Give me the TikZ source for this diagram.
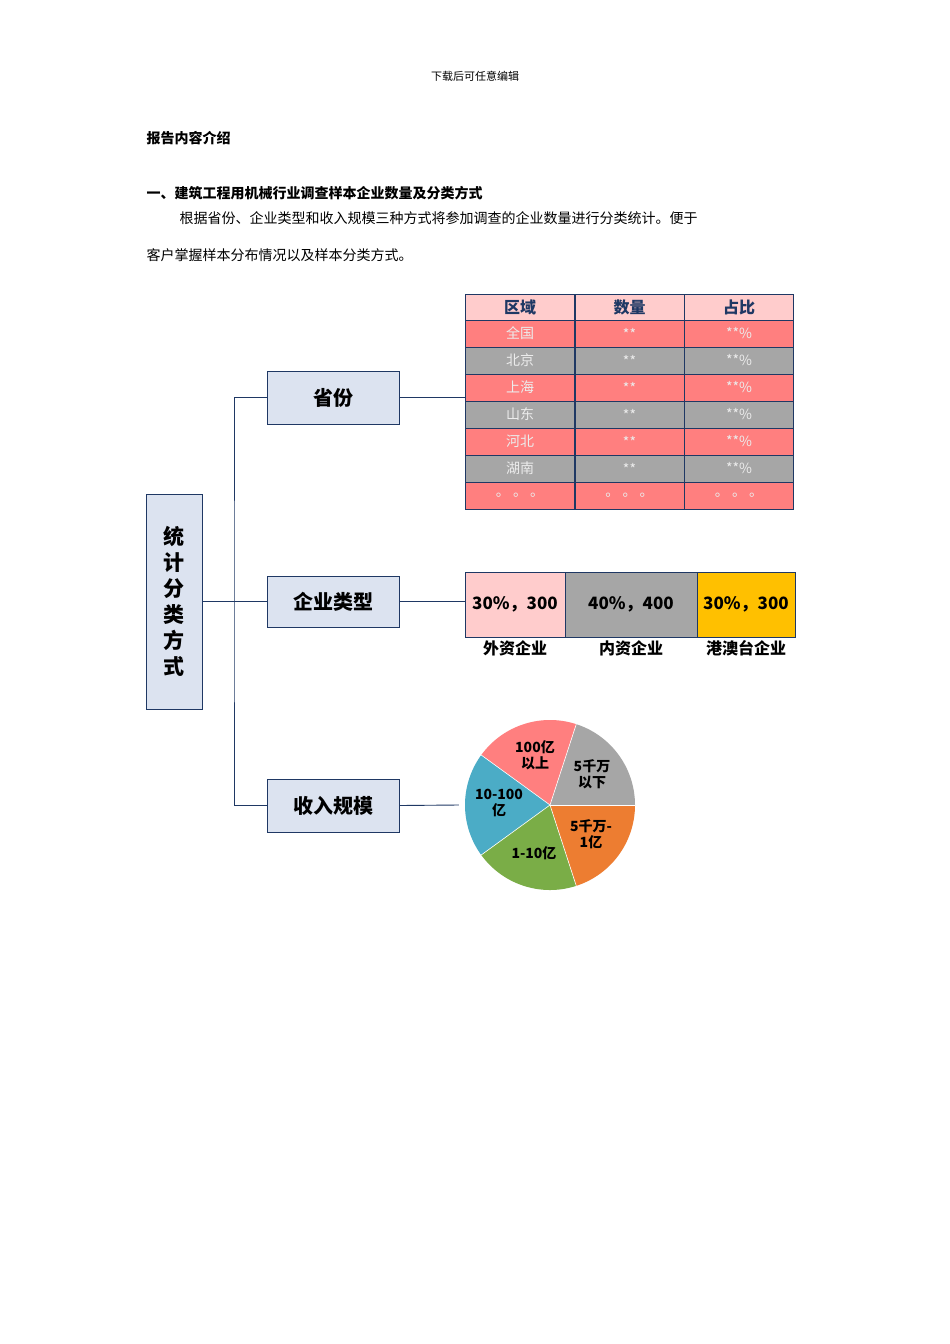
\documentclass[tikz,border=0pt]{standalone}
\usepackage{fontspec}
\setmainfont{Noto Sans CJK SC}
\definecolor{navy}{HTML}{1F3864}
\definecolor{boxbg}{HTML}{DCE3F0}
\definecolor{pinkrow}{HTML}{FF7F7F}
\definecolor{greyrow}{HTML}{A6A6A6}
\definecolor{hdr}{HTML}{FFCCCC}
\definecolor{gold}{HTML}{FFC000}
\definecolor{pblue}{HTML}{4BACC6}
\definecolor{pgreen}{HTML}{7AAD47}
\definecolor{porange}{HTML}{ED7D31}
\begin{document}
\begin{tikzpicture}[x=1pt,y=-1pt,
  catbox/.style={draw=navy,line width=1pt,fill=boxbg,inner sep=0},
  conn/.style={draw=navy,line width=0.9pt},
  cell/.style={draw=navy,line width=0.8pt,minimum width=109pt,minimum height=27pt,inner sep=0,font=\fontsize{14}{14}\selectfont,text=white!85!gray},
  pk/.style={cell,fill=pinkrow},
  gy/.style={cell,fill=greyrow},
  seg/.style={draw=navy,line width=0.8pt,minimum height=65pt,inner sep=0,font=\bfseries\fontsize{17}{17}\selectfont},
  pl/.style={font=\bfseries\fontsize{14}{16}\selectfont,align=center,text=black}]
\useasboundingbox (0,0) rectangle (950,1344);
\fill[white] (0,0) rectangle (950,1344);
\node (hd) at (475,76) {\fontsize{11}{11}\selectfont 下载后可任意编辑};
\node[anchor=west] (t1) at (143,138) {\bfseries\fontsize{14}{14}\selectfont 报告内容介绍};
\node[anchor=west] (t2) at (143,193) {\bfseries\fontsize{14}{14}\selectfont 一、建筑工程用机械行业调查样本企业数量及分类方式};
\node[anchor=west] (t3) at (176,218) {\fontsize{14}{14}\selectfont 根据省份、企业类型和收入规模三种方式将参加调查的企业数量进行分类统计。便于};
\node[anchor=west] (t4) at (143,255) {\fontsize{14}{14}\selectfont 客户掌握样本分布情况以及样本分类方式。};
\node[catbox,minimum width=56pt,minimum height=215pt,align=center,font=\bfseries\fontsize{21}{26}\selectfont] (root) at (174,601.5) {统\\计\\分\\类\\方\\式};
\node[catbox,minimum width=132pt,minimum height=53pt,font=\bfseries\fontsize{20}{20}\selectfont] (b1) at (333,397.5) {省份};
\node[catbox,minimum width=132pt,minimum height=51pt,font=\bfseries\fontsize{20}{20}\selectfont] (b2) at (333,601.5) {企业类型};
\node[catbox,minimum width=132pt,minimum height=53pt,font=\bfseries\fontsize{20}{20}\selectfont] (b3) at (333,805.5) {收入规模};
\coordinate (j) at (234,601.5);
\draw[conn] (root.east) -- (j);
\draw[conn] (b1.west) -| (j) |- (b3.west);
\draw[conn] (j) -- (b2.west);
\foreach \x/\t in {520/区域,629.5/数量,739/占比}
  \node[cell,fill=hdr,minimum height=26pt,text=navy,font=\bfseries\fontsize{16}{16}\selectfont] at (\x,307) {\t};
\foreach \y/\s/\a in {333.5/pk/全国,360.5/gy/北京,387.5/pk/上海,414.5/gy/山东,441.5/pk/河北,468.5/gy/湖南}{
  \node[\s] at (520,\y) {\a};
  \node[\s] at (629.5,\y) {**};
  \node[\s] at (739,\y) {**\%};
}
\foreach \x in {520,629.5,739} \node[pk] at (\x,495.5) {。\ 。\ 。};
\coordinate (tabin) at (465.5,397.5);
\draw[conn] (b1.east) -- (tabin);
\node[seg,fill=hdr,minimum width=100pt] (s1) at (515,604.5) {30\%，300};
\node[seg,fill=greyrow,minimum width=132pt] (s2) at (631,604.5) {40\%，400};
\node[seg,fill=gold,minimum width=98pt] (s3) at (746,604.5) {30\%，300};
\draw[conn] (b2.east) -- (s1.west|-b2.east);
\foreach \n/\t in {s1/外资企业,s2/内资企业,s3/港澳台企业}
  \node[font=\bfseries\fontsize{16}{16}\selectfont] at (\n.south|-0,648) {\t};
\coordinate (pc) at (550,805);
\def\r{85}
\fill[greyrow] (pc) -- ++(0:\r) arc[start angle=0,end angle=-72,radius=\r] -- cycle;
\fill[pinkrow] (pc) -- ++(-72:\r) arc[start angle=-72,end angle=-144,radius=\r] -- cycle;
\fill[pblue] (pc) -- ++(-144:\r) arc[start angle=-144,end angle=-216,radius=\r] -- cycle;
\fill[pgreen] (pc) -- ++(-216:\r) arc[start angle=-216,end angle=-288,radius=\r] -- cycle;
\fill[porange] (pc) -- ++(-288:\r) arc[start angle=-288,end angle=-360,radius=\r] -- cycle;
\foreach \a in {0,72,144,216,288} \draw[white,line width=0.6pt] (pc) -- ++(-\a:\r);
\node[inner sep=0,minimum size=170pt,circle] (pie) at (pc) {};
\draw[conn] (b3.east) -- ([xshift=-6pt]pie.west);
\node[pl] at (535,755) {100亿\\以上};
\node[pl] at (592,774) {5千万\\以下};
\node[pl] at (499,803) {10-100\\亿};
\node[pl] at (591,834) {5千万-\\1亿};
\node[pl] at (534,853) {1-10亿};
\end{tikzpicture}
\end{document}
